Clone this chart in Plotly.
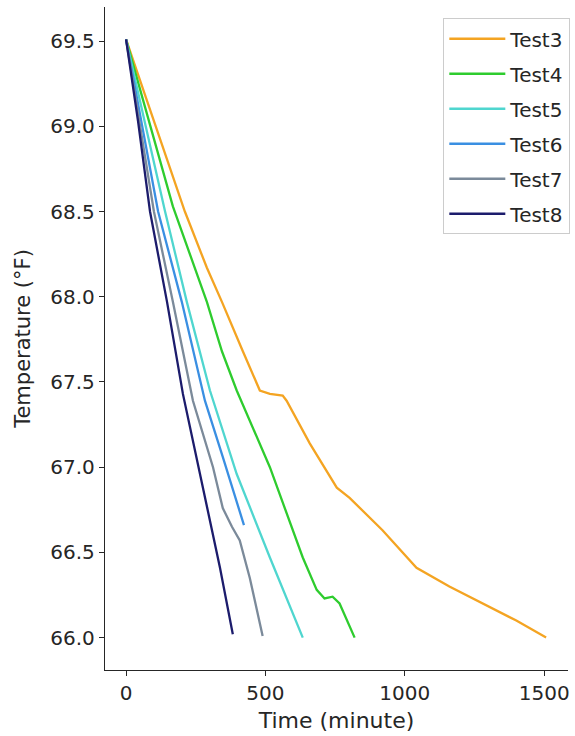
import plotly.graph_objects as go

names = ["Test3", "Test4", "Test5", "Test6", "Test7", "Test8"]
colors = ["#F4A422", "#2ECC2E", "#4FD6CF", "#3A8FE2", "#7B8A9A", "#1C1C6C"]

t3 = [0, 211, 290, 344, 419, 480, 516, 562, 576, 659, 756, 802, 920, 1042, 1160, 1278, 1400, 1507]
T3 = [69.51, 68.50, 68.17, 67.97, 67.68, 67.45, 67.43, 67.42, 67.39, 67.14, 66.88, 66.82, 66.63, 66.41, 66.30, 66.20, 66.10, 66.00]

t4 = [0, 168, 290, 344, 397, 516, 634, 684, 712, 741, 766, 820]
T4 = [69.51, 68.53, 67.97, 67.68, 67.45, 67.00, 66.47, 66.28, 66.23, 66.24, 66.20, 66.00]

t5 = [0, 140, 218, 301, 397, 516, 634]
T5 = [69.51, 68.50, 67.97, 67.45, 66.96, 66.47, 66.00]

t6 = [0, 115, 200, 283, 347, 423]
T6 = [69.51, 68.50, 67.97, 67.39, 67.06, 66.66]

t7 = [0, 100, 168, 240, 312, 347, 380, 408, 444, 490]
T7 = [69.51, 68.50, 67.97, 67.39, 67.00, 66.76, 66.65, 66.57, 66.35, 66.01]

t8 = [0, 43, 86, 147, 204, 265, 337, 383]
T8 = [69.51, 69.03, 68.50, 67.97, 67.43, 66.96, 66.41, 66.02]

times = [t3, t4, t5, t6, t7, t8]
temps = [T3, T4, T5, T6, T7, T8]

x_ticks = [0, 500, 1000, 1500]
y_ticks = [66.0, 66.5, 67.0, 67.5, 68.0, 68.5, 69.0, 69.5]

fig = go.Figure()
for name, c, tx, ty in zip(names, colors, times, temps):
    fig.add_trace(go.Scatter(x=tx, y=ty, mode="lines", name=name, legendgroup=name,
                             line=dict(color=c, width=2.3)))

axis_common = dict(showgrid=False, zeroline=False, showline=True, linecolor="#262626",
                   linewidth=1.3, ticks="outside", ticklen=5, tickwidth=1.3,
                   tickcolor="#262626", tickfont=dict(family="DejaVu Sans", size=20, color="#262626"),
                   mirror=False)

fig.update_layout(
    width=575, height=736,
    margin=dict(l=105, r=5, t=7, b=66),
    plot_bgcolor="white", paper_bgcolor="white",
    font=dict(family="DejaVu Sans", color="#262626"),
    xaxis=dict(range=[-75.5, 1585.5], tickvals=x_ticks, ticktext=[str(v) for v in x_ticks],
               title=dict(text="Time (minute)", font=dict(size=22), standoff=8), **axis_common),
    yaxis=dict(range=[65.81, 69.70], tickvals=y_ticks, ticktext=[f"{v:.1f}" for v in y_ticks],
               title=dict(text="Temperature (°F)", font=dict(size=21), standoff=13), **axis_common),
    legend=dict(x=1.005, xanchor="right", y=0.983, yanchor="top",
                bordercolor="#cccccc", borderwidth=1, bgcolor="rgba(255,255,255,0.8)",
                font=dict(family="DejaVu Sans", size=20, color="#262626"),
                traceorder="grouped", tracegroupgap=6, itemwidth=56),
    showlegend=True,
)

fig.write_html("out.html")
